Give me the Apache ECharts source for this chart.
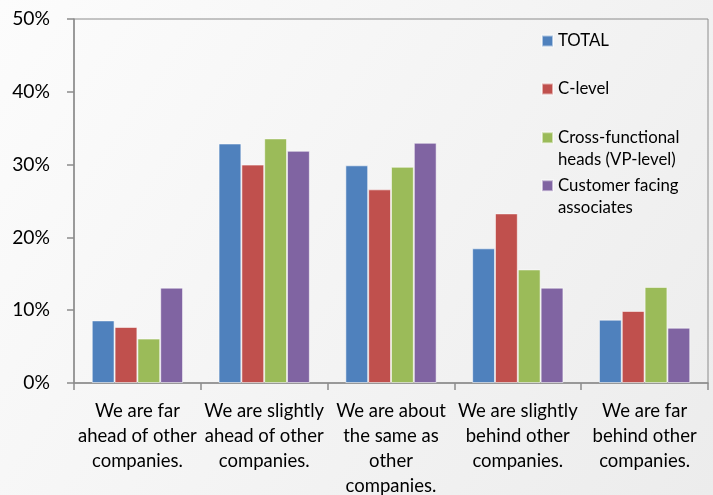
<!DOCTYPE html>
<html>
<head>
<meta charset="utf-8">
<script src="https://cdn.jsdelivr.net/npm/echarts@6/dist/echarts.min.js"></script>
<style>
  html, body { margin: 0; padding: 0; }
  #chart { width: 713px; height: 495px; }
</style>
</head>
<body>
<div id="chart"></div>
<script>
// Survey answers: how the company compares with others
const categories = [
  'We are far\nahead of other\ncompanies.',
  'We are slightly\nahead of other\ncompanies.',
  'We are about\nthe same as\nother\ncompanies.',
  'We are slightly\nbehind other\ncompanies.',
  'We are far\nbehind other\ncompanies.'
];
const seriesNames = [
  'TOTAL',
  'C-level',
  'Cross-functional\nheads (VP-level)',
  'Customer facing\nassociates'
];
// shares in percent
const totalValues    = [8.6, 32.9, 29.9, 18.5, 8.7];
const cLevelValues   = [7.7, 30.0, 26.6, 23.3, 9.9];
const crossFnValues  = [6.1, 33.6, 29.7, 15.6, 13.2];
const customerValues = [13.1, 31.9, 33.0, 13.1, 7.6];
const yTicks = [0, 10, 20, 30, 40, 50];

const palette = ['#4f81bd', '#c0504d', '#9bbb59', '#8064a2'];
const allValues = [totalValues, cLevelValues, crossFnValues, customerValues];
const FONT = 'Lato';

const chart = echarts.init(document.getElementById('chart'), null, { renderer: 'canvas' });

// one legend block per series so the vertical spacing can follow the layout;
// wrapped names get a leading blank line so the swatch sits beside the first line
const legendTops = [30, 78, 104.7, 152.7];
const legends = seriesNames.map((name, i) => ({
  data: [name],
  left: 541,
  top: legendTops[i],
  padding: 0,
  orient: 'vertical',
  itemWidth: 11,
  itemHeight: 11,
  itemGap: 0,
  icon: 'rect',
  selectedMode: false,
  formatter: n => (n.indexOf('\n') >= 0 ? '\n' + n : n),
  textStyle: {
    fontFamily: FONT,
    fontSize: 16.8,
    color: '#000',
    lineHeight: 22
  }
}));

chart.setOption({
  backgroundColor: {
    type: 'linear', x: 0, y: 0, x2: 1, y2: 1,
    colorStops: [
      { offset: 0, color: '#fcfcfc' },
      { offset: 1, color: '#ececec' }
    ]
  },
  animation: false,
  legend: legends,
  grid: {
    left: 74, right: 5, top: 19, bottom: 112,
    outerBoundsMode: 'none',
    containLabel: false,
    show: true,
    borderColor: '#8c8c8c',
    borderWidth: 1,
    backgroundColor: 'transparent'
  },
  xAxis: {
    type: 'category',
    data: categories,
    axisLine: { lineStyle: { color: '#8c8c8c', width: 1.5 } },
    axisTick: { show: true, length: 7, alignWithLabel: false, lineStyle: { color: '#8c8c8c', width: 1.5 } },
    axisLabel: {
      interval: 0,
      margin: 16,
      fontFamily: FONT,
      fontSize: 18.5,
      lineHeight: 25,
      color: '#000'
    }
  },
  yAxis: {
    type: 'value',
    min: yTicks[0],
    max: yTicks[yTicks.length - 1],
    interval: 10,
    splitLine: { show: false },
    axisLine: { show: true, lineStyle: { color: '#8c8c8c', width: 1.5 } },
    axisTick: { show: true, length: 7, lineStyle: { color: '#8c8c8c', width: 1.5 } },
    axisLabel: {
      margin: 24,
      fontFamily: FONT,
      fontSize: 19.3,
      color: '#000',
      formatter: v => v + '%'
    }
  },
  series: seriesNames.map((name, i) => ({
    name: name,
    type: 'bar',
    data: allValues[i],
    barGap: '0%',
    barCategoryGap: '28%',
    itemStyle: {
      color: palette[i],
      borderColor: 'rgba(255,255,255,0.55)',
      borderWidth: 1
    }
  }))
});
</script>
</body>
</html>
